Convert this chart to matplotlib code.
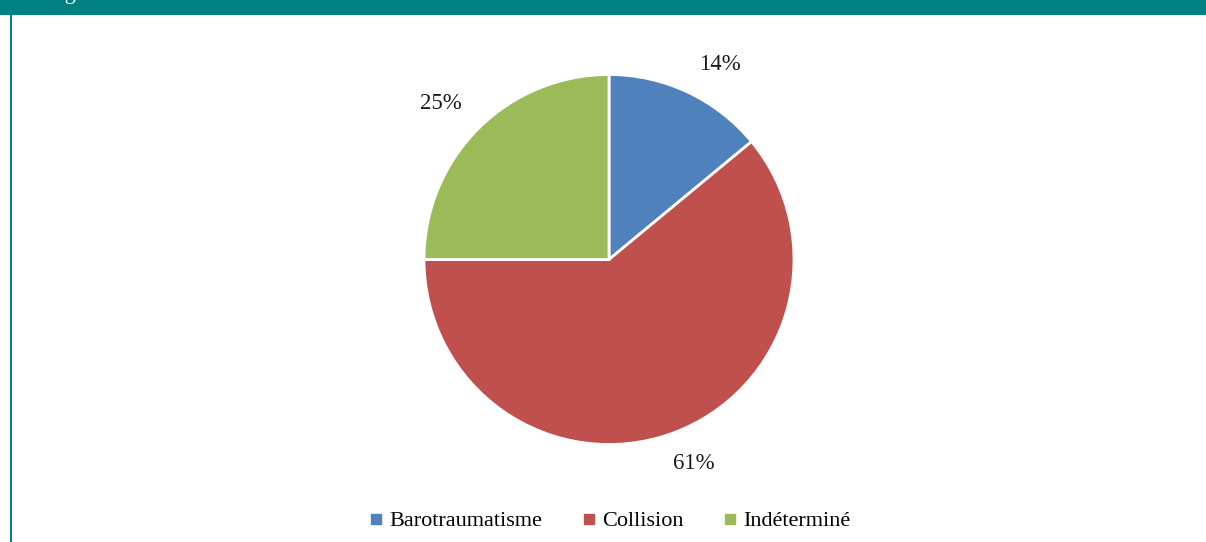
import matplotlib
matplotlib.use("Agg")
import matplotlib.pyplot as plt
from matplotlib.lines import Line2D
from matplotlib.patches import Rectangle

categories = ["Barotraumatisme", "Collision", "Indéterminé"]
shares = [14, 61, 25]
colors = ["#4F81BD", "#C0504D", "#9BBB59"]
teal = "#008080"

# label nudges (pixels) away from the default autopct spot
nudges = [(16, -8), (9, 7), (-10, -2)]

plt.rcParams["font.family"] = ["Liberation Serif", "DejaVu Serif"]

W, H = 1206, 542
fig = plt.figure(figsize=(W / 100, H / 100), dpi=100)
fig.patch.set_facecolor("white")

# frame: teal header strip and left rule
fig.patches.append(Rectangle((0, (H - 15) / H), 1, 15 / H, transform=fig.transFigure,
                             facecolor=teal, edgecolor="none", zorder=0))
fig.patches.append(Rectangle((10 / W, 0), 2 / W, (H - 15) / H, transform=fig.transFigure,
                             facecolor=teal, edgecolor="none", zorder=0))
fig.text(46 / W, 1 + 1.5 / H, "Figure", color="white", fontsize=16,
         va="baseline", ha="left")

# pie axes, square box in pixels
cx, cy, r = 609, 259.5, 185
ax = fig.add_axes([(cx - r) / W, (H - cy - r) / H, 2 * r / W, 2 * r / H])
wedges, texts, autotexts = ax.pie(
    shares, colors=colors, startangle=90, counterclock=False,
    autopct=lambda p: "%d%%" % round(p), pctdistance=1.21,
    wedgeprops=dict(edgecolor="white", linewidth=2),
    textprops=dict(fontsize=16.5, color="#1a1a1a"),
)
for t, (dx, dy) in zip(autotexts, nudges):
    x, y = t.get_position()
    t.set_position((x + dx / r, y + dy / r))
ax.set_xlim(-1, 1)
ax.set_ylim(-1, 1)
ax.axis("off")

handles = [Line2D([], [], marker="s", linestyle="none", markersize=7.2,
                  markerfacecolor=c, markeredgecolor=c) for c in colors]
fig.legend(handles, categories, loc="center", bbox_to_anchor=(0.505, 21 / H),
           ncol=3, frameon=False, fontsize=16, handletextpad=0.2,
           columnspacing=1.7, handlelength=0.8)

fig.savefig("out.png", dpi=100)
